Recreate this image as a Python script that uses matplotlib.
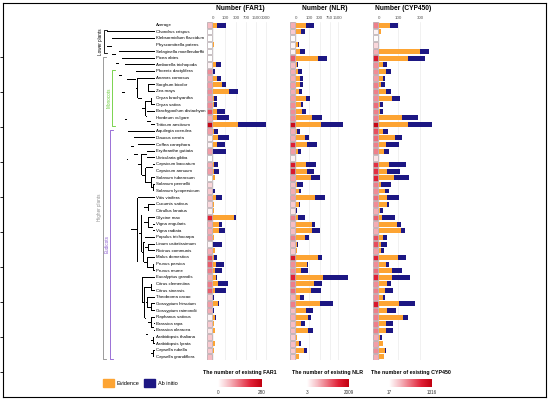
import numpy as np
import matplotlib
matplotlib.use('Agg')
import matplotlib.pyplot as plt
from matplotlib.colors import LinearSegmentedColormap, Normalize
from matplotlib.cm import ScalarMappable
from matplotlib.patches import Patch

plt.rcParams['font.family'] = ['Liberation Sans', 'DejaVu Sans']

# rows, top to bottom
species = ['Average', 'Chondrus crispus', 'Klebsormidium flaccidum', 'Physcomitrella patens',
           'Selaginella moellendorffii', 'Picea abies', 'Amborella trichopoda', 'Phoenix dactylifera',
           'Ananas comosus', 'Sorghum bicolor', 'Zea mays', 'Oryza brachyantha', 'Oryza sativa',
           'Brachypodium distachyon', 'Hordeum vulgare', 'Triticum aestivum', 'Aquilegia coerulea',
           'Daucus carota', 'Coffea canephora', 'Erythranthe guttata', 'Utricularia gibba',
           'Capsicum baccatum', 'Capsicum annuum', 'Solanum tuberosum', 'Solanum pennellii',
           'Solanum lycopersicum', 'Vitis vinifera', 'Cucumis sativus', 'Citrullus lanatus',
           'Glycine max', 'Vigna angularis', 'Vigna radiata', 'Populus trichocarpa',
           'Linum usitatissimum', 'Ricinus communis', 'Malus domestica', 'Prunus persica',
           'Prunus mume', 'Eucalyptus grandis', 'Citrus clementina', 'Citrus sinensis',
           'Theobroma cacao', 'Gossypium hirsutum', 'Gossypium raimondii', 'Raphanus sativus',
           'Brassica rapa', 'Brassica oleracea', 'Arabidopsis thaliana', 'Arabidopsis lyrata',
           'Capsella rubella', 'Capsella grandiflora']

far1_evidence = [25, 0, 0, 5, 0, 0, 17, 2, 21, 64, 151, 5, 5, 25, 25, 360, 3, 30, 21, 2, 0, 3, 3, 13, 0, 2,
                 17, 5, 7, 247, 38, 40, 5, 2, 9, 7, 17, 11, 15, 30, 11, 2, 32, 2, 13, 5, 9, 1, 9, 4, 0]
far1_abinitio = [83, 0, 0, 0, 0, 0, 35, 6, 31, 44, 202, 16, 20, 67, 121, 2800, 25, 126, 79, 103, 0, 29, 37, 0, 0, 9,
                 50, 0, 0, 41, 23, 60, 0, 65, 0, 18, 64, 56, 6, 102, 101, 5, 6, 2, 2, 0, 0, 0, 0, 0, 0]
nlr_evidence = [61, 26, 0, 8, 18, 258, 6, 10, 21, 20, 14, 67, 26, 34, 142, 344, 3, 55, 74, 8, 0, 61, 77, 118, 4, 12,
                196, 12, 1, 10, 138, 142, 55, 3, 3, 266, 71, 26, 427, 177, 123, 21, 313, 64, 82, 27, 82, 3, 16, 44, 12]
nlr_abinitio = [115, 29, 0, 8, 35, 324, 4, 20, 20, 19, 16, 42, 15, 27, 237, 2098, 15, 45, 159, 19, 0, 144, 94, 186, 37, 12,
                317, 9, 2, 48, 52, 162, 45, 6, 1, 124, 14, 59, 3240, 191, 212, 23, 667, 95, 41, 26, 67, 0, 10, 33, 0]
cyp_evidence = [52, 8, 0, 2, 303, 177, 16, 31, 18, 8, 31, 61, 4, 4, 126, 177, 18, 80, 31, 22, 1, 48, 34, 74, 10, 25,
                36, 37, 3, 13, 95, 119, 18, 10, 7, 102, 31, 61, 61, 34, 28, 16, 109, 34, 139, 30, 30, 4, 16, 26, 23]
cyp_abinitio = [48, 0, 0, 0, 127, 192, 18, 28, 8, 18, 28, 50, 14, 14, 145, 300, 25, 51, 73, 24, 0, 111, 82, 115, 49, 23,
                73, 8, 15, 69, 26, 34, 16, 27, 16, 60, 17, 70, 137, 21, 42, 9, 138, 53, 38, 40, 40, 10, 2, 6, 0]

# number of existing genes (heat column)
far1_exist = [70, 0, 0, 0, 0, 0, 14, 112, 84, 98, 112, 98, 112, 168, 84, 266, 98, 14, 14, 98, 0, 84, 98, 0, 42, 56,
              84, 42, 14, 210, 84, 84, 98, 14, 84, 168, 154, 126, 84, 126, 154, 56, 98, 84, 14, 56, 28, 56, 56, 56, 70]
nlr_exist = [600, 400, 40, 100, 100, 1110, 500, 600, 600, 710, 600, 710, 810, 810, 810, 1810, 600, 600, 1510, 710, 100,
             1610, 1610, 710, 500, 600, 710, 400, 200, 910, 500, 500, 910, 500, 400, 1610, 810, 810, 1510, 910, 1010,
             600, 910, 500, 600, 500, 500, 400, 500, 400, 400]
cyp_exist = [600, 80, 40, 210, 410, 1060, 540, 540, 470, 600, 600, 540, 670, 600, 600, 1250, 800, 670, 600, 600, 150,
             930, 930, 990, 600, 540, 670, 540, 410, 730, 410, 410, 800, 800, 470, 990, 540, 670, 990, 540, 600, 540,
             1060, 600, 600, 600, 600, 410, 470, 540, 410]

panels = [
    ('FAR1', far1_evidence, far1_abinitio, far1_exist, (0, 280), [0, 100, 300, 700, 1500, 3000]),
    ('NLR', nlr_evidence, nlr_abinitio, nlr_exist, (3, 2009), [0, 100, 300, 750, 1500]),
    ('CYP450', cyp_evidence, cyp_abinitio, cyp_exist, (17, 1316), [0, 100, 300]),
]

# tree: internal node labels are the node depth from the root
mono = ("(Phoenix_dactylifera,(Ananas_comosus,((Sorghum_bicolor,Zea_mays)41.5,((Oryza_brachyantha,Oryza_sativa)44.5,"
        "(Brachypodium_distachyon,(Hordeum_vulgare,Triticum_aestivum)44)40)38.5)35)30.5)29")
asterids = ("(Daucus_carota,(Coffea_canephora,((Erythranthe_guttata,Utricularia_gibba)40,((Capsicum_baccatum,"
            "Capsicum_annuum)46,(Solanum_tuberosum,(Solanum_pennellii,Solanum_lycopersicum)46.5)44.5)38.5)34.5)31)27")
fabids = ("(((Cucumis_sativus,Citrullus_lanatus)41.5,(Glycine_max,(Vigna_angularis,Vigna_radiata)46)41.5)37,"
          "((Populus_trichocarpa,(Linum_usitatissimum,Ricinus_communis)41.5)38,(Malus_domestica,(Prunus_persica,"
          "Prunus_mume)46.5)40.5)36.5)34.5")
malvids = ("(Eucalyptus_grandis,((Citrus_clementina,Citrus_sinensis)44.5,((Theobroma_cacao,(Gossypium_hirsutum,"
           "Gossypium_raimondii)44.5)40.5,((Raphanus_sativus,(Brassica_rapa,Brassica_oleracea)47)44.5,"
           "((Arabidopsis_thaliana,Arabidopsis_lyrata)46.5,(Capsella_rubella,Capsella_grandiflora)46.5)44)41)39)37.5)35.5")
rosids = "(Vitis_vinifera,(" + fabids + "," + malvids + ")32)30.5"
eudicots = "(Aquilegia_coerulea,(" + asterids + "," + rosids + ")24)21"
tree_nwk = ("(Chondrus_crispus,(Klebsormidium_flaccidum,(Physcomitrella_patens,(Selaginella_moellendorffii,"
            "(Picea_abies,(Amborella_trichopoda,(" + mono + "," + eudicots + ")20)18)15)12)9)5)0")
tip_depth = 48

clades = [('Lower plants', 1, 4, 'black'), ('Higher plants', 5, 50, '#8c8c8c'),
          ('Monocots', 7, 15, '#66cc33'), ('Eudicots', 16, 50, '#8a5ad0')]

orange = '#fda433'
navy = '#1d1783'
heat_cmap = LinearSegmentedColormap.from_list(
    'heat', [(0, '#ffffff'), (0.25, '#f6bcc3'), (0.5, '#ec6e7c'), (0.75, '#e02036'), (1, '#c0000f')])

W, H = 552, 401
ROW_TOP, ROW_BOT = 21.7, 360.3


def box(x0, x1, y0=ROW_TOP, y1=ROW_BOT):
    return [x0 / W, 1 - y1 / H, (x1 - x0) / W, (y1 - y0) / H]


def parse(s, i=0):
    if s[i] == '(':
        kids = []
        i += 1
        while True:
            kid, i = parse(s, i)
            kids.append(kid)
            if s[i] == ',':
                i += 1
            else:
                break
        i += 1
        j = i
        while i < len(s) and s[i] not in ',)':
            i += 1
        return (float(s[j:i]), kids), i
    j = i
    while s[i] not in ',)':
        i += 1
    return s[j:i].replace('_', ' '), i


fig = plt.figure(figsize=(W / 100, H / 100), dpi=100)

# outer frame
frame = fig.add_axes([2.7 / W, 1 - 396.7 / H, 543 / W, 394 / H], zorder=-1)
frame.set_facecolor('none')
frame.set_xticks([])
frame.set_ylim(396.7, 2.7)
frame.set_yticks(np.arange(57, 380, 35))
frame.tick_params(axis='y', length=2, width=0.6, labelleft=False)
for sp in frame.spines.values():
    sp.set_linewidth(0.8)

# panels
heat_x = [206.5, 289.3, 372.5]
bar_x = [(213, 267), (296, 354), (379, 439)]
scale_c = [70, 50, 150]
xmax = [3335, 5984, 599]
title_pos = [0.5, 0.5, 0.4]
cbar_x = [(218, 262), (307, 349), (389, 432)]
rows = np.arange(len(species))

for k, (gene, ev, ab, ex, lims, ticks) in enumerate(panels):
    norm = Normalize(*lims)

    hax = fig.add_axes(box(heat_x[k], heat_x[k] + 6.5))
    hax.barh(rows, 1, height=0.85, color=heat_cmap(norm(np.array(ex))), edgecolor='#a99da2', linewidth=0.45)
    hax.set_xlim(-0.1, 1.1)
    hax.set_ylim(50.5, -0.5)
    hax.axis('off')

    bax = fig.add_axes(box(*bar_x[k]))
    c = scale_c[k]
    bax.set_xscale('function', functions=(lambda x, c=c: np.log1p(np.clip(x, 0, None) / c),
                                          lambda y, c=c: c * np.expm1(y)))
    bax.barh(rows, ev, height=0.75, color=orange)
    bax.barh(rows, ab, left=ev, height=0.75, color=navy)
    bax.set_xlim(0, xmax[k])
    bax.set_ylim(50.5, -0.5)
    bax.set_xticks(ticks)
    bax.set_xticklabels([str(t) for t in ticks])
    bax.xaxis.tick_top()
    bax.tick_params(axis='x', length=0, labelsize=3.2, pad=1, labelcolor='#555555')
    bax.set_yticks([])
    bax.grid(axis='x', color='#ececec', lw=0.5)
    bax.set_axisbelow(True)
    for sp in bax.spines.values():
        sp.set_visible(False)
    bax.set_title('Number (%s)' % gene, fontsize=4.8, fontweight='bold', x=title_pos[k], pad=4.5)

    cax = fig.add_axes(box(cbar_x[k][0], cbar_x[k][1], 379, 387))
    cb = fig.colorbar(ScalarMappable(norm=norm, cmap=heat_cmap), cax=cax, orientation='horizontal')
    cb.set_ticks(list(lims))
    cb.outline.set_visible(False)
    cax.tick_params(length=0, labelsize=3.3, pad=2.5, labelcolor='#333333')
    cax.set_title('The number of existing %s' % gene, fontsize=3.8, fontweight='bold', pad=3.5)

fig.legend(handles=[Patch(color=orange), Patch(color=navy)], labels=['Evidence', 'Ab initio'],
           loc='center left', bbox_to_anchor=(103 / W, 1 - 383 / H), frameon=False, ncol=2,
           fontsize=4, handlelength=2.0, handleheight=2.1, handletextpad=0.5, columnspacing=0.8,
           borderpad=0, borderaxespad=0)

# tree, drawn last and on top; branches drawn as thin bars
row_of = {name: i for i, name in enumerate(species)}
tax = fig.add_axes(box(95, 155), zorder=20)
tax.set_xlim(-12, tip_depth)
tax.set_ylim(50.5, -0.5)
tax.axis('off')

h_left, h_width, h_y = [], [], []
v_x, v_bottom, v_height = [], [], []


def walk(node):
    if isinstance(node, str):
        return tip_depth, row_of[node]
    d, kids = node
    pts = [walk(k) for k in kids]
    ys = [p[1] for p in pts]
    for px, py in pts:
        h_left.append(d)
        h_width.append(px - d)
        h_y.append(py)
    v_x.append(d)
    v_bottom.append(min(ys))
    v_height.append(max(ys) - min(ys))
    return d, float(np.mean(ys))


tree, _ = parse(tree_nwk)
walk(tree)

line_px = 0.8
row_px = (ROW_BOT - ROW_TOP) / 51
tax.barh(h_y, h_width, left=h_left, height=line_px / row_px, color='black', linewidth=0, clip_on=False)
tax.bar(v_x, v_height, bottom=v_bottom, width=line_px, color='black', linewidth=0, clip_on=False)

for i, name in enumerate(species):
    tax.text(tip_depth + 0.8, i, name, fontsize=3.2, va='center', ha='left', clip_on=False)

bracket_x = {'Lower plants': -3.5, 'Higher plants': -4.5, 'Monocots': 5, 'Eudicots': 3}
for name, r0, r1, col in clades:
    bx = bracket_x[name]
    y0, y1 = r0 - 0.25, r1 + 0.25
    tax.plot([bx + 3, bx, bx, bx + 3], [y0, y0, y1, y1], color=col, lw=0.6, clip_on=False)
    tax.text(bx - 3.2, (y0 + y1) / 2, name, color=col, fontsize=3.3, rotation=90,
             ha='center', va='center')

fig.savefig('out.png', dpi=100)
